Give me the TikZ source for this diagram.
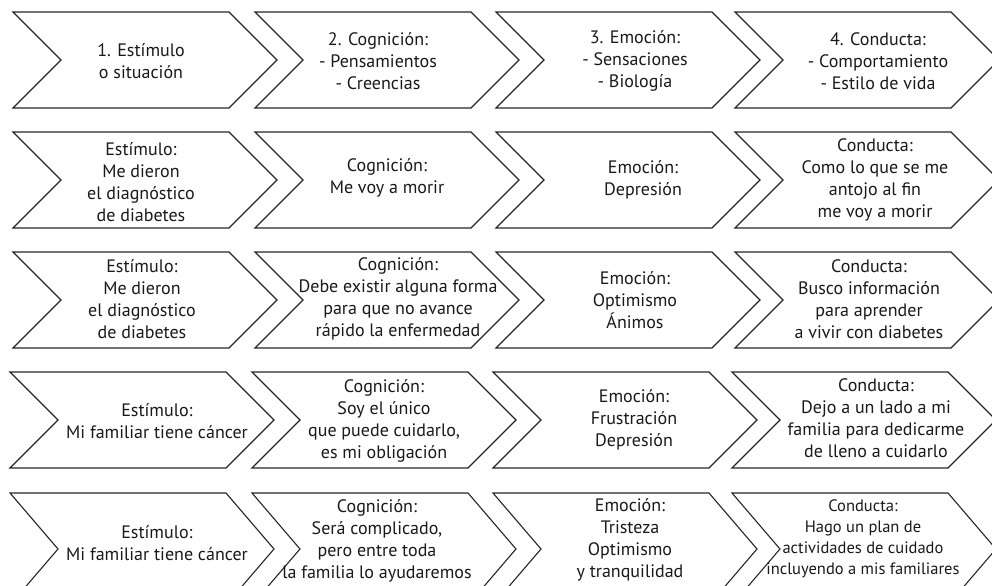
\documentclass[tikz,border=0pt]{standalone}
\usepackage{fontspec}
\setmainfont{PT Sans}
\tikzset{
  chevline/.style={draw=black!85, line width=1.1bp, line join=miter},
  lbl/.style={align=center, inner sep=0pt, text=black!90, font=\fontsize{18bp}{22bp}\selectfont},
  lblsmall/.style={lbl, font=\fontsize{16.5bp}{21bp}\selectfont}
}
\newcommand\chev[3]{% x, ytop, height
  \path[chevline] (#1,#2) -- (#1+216,#2) -- (#1+264,#2+#3/2) -- (#1+216,#2+#3)
    -- (#1,#2+#3) -- (#1+48,#2+#3/2) -- cycle;}
\begin{document}
\begin{tikzpicture}[x=1bp,y=-1bp]
\useasboundingbox (0,0) rectangle (992,586);
\clip (0,0) rectangle (992,586);
% row 1
\chev{13}{12}{96}\chev{255}{12}{96}\chev{496}{12}{96}\chev{735}{12}{96}
\node[lbl] (r1a) at (141,61) {1. Estímulo\\o situación};
\node[lbl] (r1b) at (378,61) {2. Cognición:\\- Pensamientos\\- Creencias};
\node[lbl] (r1c) at (635,61) {3. Emoción:\\- Sensaciones\\- Biología};
\node[lbl] (r1d) at (878,61) {4. Conducta:\\- Comportamiento\\- Estilo de vida};
% row 2
\chev{13}{132}{96}\chev{255}{132}{96}\chev{496}{132}{96}\chev{735}{132}{96}
\node[lbl] (r2a) at (141,182) {Estímulo:\\Me dieron\\el diagnóstico\\de diabetes};
\node[lbl] (r2b) at (387,178) {Cognición:\\Me voy a morir};
\node[lbl] (r2c) at (643,180) {Emoción:\\Depresión};
\node[lbl] (r2d) at (875,180) {Conducta:\\Como lo que se me\\antojo al fin\\me voy a morir};
% row 3
\chev{13}{252}{96}\chev{255}{252}{96}\chev{496}{252}{96}\chev{735}{252}{96}
\node[lbl] (r3a) at (142,299) {Estímulo:\\Me dieron\\el diagnóstico\\de diabetes};
\node[lbl] (r3b) at (398,299) {Cognición:\\Debe existir alguna forma\\para que no avance\\rápido la enfermedad};
\node[lbl] (r3c) at (635,300) {Emoción:\\Optimismo\\Ánimos};
\node[lbl] (r3d) at (869,299) {Conducta:\\Busco información\\para aprender\\a vivir con diabetes};
% row 4
\chev{10}{372}{96}\chev{252}{372}{96}\chev{493}{372}{96}\chev{732}{372}{96}
\node[lbl] (r4a) at (157,421) {Estímulo:\\Mi familiar tiene cáncer};
\node[lbl] (r4b) at (384,421) {Cognición:\\Soy el único\\que puede cuidarlo,\\es mi obligación};
\node[lbl] (r4c) at (634,420) {Emoción:\\Frustración\\Depresión};
\node[lbl] (r4d) at (876,418) {Conducta:\\Dejo a un lado a mi\\familia para dedicarme\\de lleno a cuidarlo};
% row 5
\chev{10}{493}{112}\chev{252}{493}{112}\chev{493}{493}{112}\chev{732}{493}{112}
\node[lbl] (r5a) at (157,543) {Estímulo:\\Mi familiar tiene cáncer};
\node[lbl] (r5b) at (377,541) {Cognición:\\Será complicado,\\pero entre toda\\la familia lo ayudaremos};
\node[lbl] (r5c) at (630,540) {Emoción:\\Tristeza\\Optimismo\\y tranquilidad};
\node[lblsmall] (r5d) at (863,539) {Conducta:\\Hago un plan de\\actividades de cuidado\\incluyendo a mis familiares};
\end{tikzpicture}
\end{document}
